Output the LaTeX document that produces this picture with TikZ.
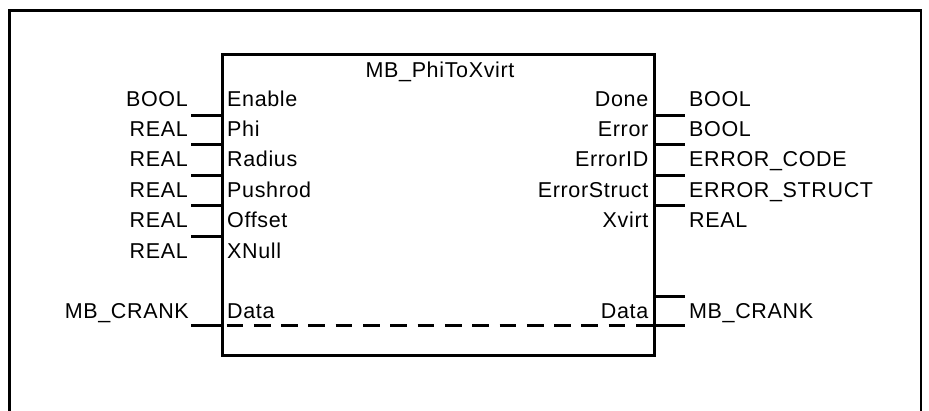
\documentclass[tikz,border=0pt]{standalone}
\usepackage{fontspec}
\setmainfont{Liberation Sans}
\newfontfamily\pinfont[LetterSpace=3]{Liberation Sans}
\begin{document}
\begin{tikzpicture}[x=1pt,y=-1pt,
  lbl/.style={inner sep=0pt, font=\pinfont\fontsize{21.5}{24}\selectfont},
  typeL/.style={lbl, anchor=base east},
  pinL/.style={lbl, anchor=base west},
  pinR/.style={lbl, anchor=base east},
  typeR/.style={lbl, anchor=base west},
  pinline/.style={line width=3pt},
  fbbox/.style={draw, line width=3pt, minimum width=432pt, minimum height=300.7pt, inner sep=0pt}]
  \clip (0,0) rectangle (929,410);
  \fill[white] (0,0) rectangle (929,410);

  % surrounding frame, open at the bottom
  \draw[line width=2.5pt] (9.5,420) -- (9.5,10.5) -- (921,10.5) -- (921,420);

  % function block
  \node[fbbox] (fb) at (438,205.3) {};
  \node[lbl, anchor=base] (title) at (440,77) {MB\_PhiToXvirt};

  % input side
  \node[typeL] (tEnable)  at (188,106)   {BOOL};
  \node[typeL] (tPhi)     at (188,136)   {REAL};
  \node[typeL] (tRadius)  at (188,166.5) {REAL};
  \node[typeL] (tPushrod) at (188,197)   {REAL};
  \node[typeL] (tOffset)  at (188,227.5) {REAL};
  \node[typeL] (tXNull)   at (188,258)   {REAL};
  \node[typeL] (tDataIn)  at (189,318)   {MB\_CRANK};

  \node[pinL] (pEnable)  at (227,106)   {Enable};
  \node[pinL] (pPhi)     at (227,136)   {Phi};
  \node[pinL] (pRadius)  at (227,166.5) {Radius};
  \node[pinL] (pPushrod) at (227,197)   {Pushrod};
  \node[pinL] (pOffset)  at (227,227.5) {Offset};
  \node[pinL] (pXNull)   at (227,258)   {XNull};
  \node[pinL] (pDataIn)  at (227,318)   {Data};

  % output side
  \node[pinR] (pDone)    at (648.5,106)   {Done};
  \node[pinR] (pError)   at (648.5,136)   {Error};
  \node[pinR] (pErrID)   at (648.5,166.5) {ErrorID};
  \node[pinR] (pErrSt)   at (648.5,197)   {ErrorStruct};
  \node[pinR] (pXvirt)   at (648.5,227.5) {Xvirt};
  \node[pinR] (pDataOut) at (648.5,318)   {Data};

  \node[typeR] (tDone)    at (689,106)   {BOOL};
  \node[typeR] (tError)   at (689,136)   {BOOL};
  \node[typeR] (tErrID)   at (689,166.5) {ERROR\_CODE};
  \node[typeR] (tErrSt)   at (689,197)   {ERROR\_STRUCT};
  \node[typeR] (tXvirt)   at (689,227.5) {REAL};
  \node[typeR] (tDataOut) at (689,318)   {MB\_CRANK};

  % pin stubs on the left edge
  \foreach \y [count=\i] in {115,144.5,175,205,236.5} {
    \coordinate (inA\i) at (fb.west |- 0,\y);
    \draw[pinline] (inA\i) -- ++(-29.5,0);
  }
  \coordinate (dataL) at (fb.west |- 0,325.7);
  \draw[pinline] (dataL) -- ++(-29.5,0);

  % pin stubs on the right edge
  \foreach \y [count=\i] in {115,144.5,175,205} {
    \coordinate (outA\i) at (fb.east |- 0,\y);
    \draw[pinline] (outA\i) -- ++(29,0);
  }
  \coordinate (dataRtop) at (fb.east |- 0,296);
  \draw[pinline] (dataRtop) -- ++(29,0);
  \coordinate (dataR) at (fb.east |- 0,325.7);
  \draw[pinline] (dataR) -- ++(29,0);

  % in-out data passed through the block
  \draw[pinline, dash pattern=on 16.7pt off 10.6pt, dash phase=-6pt] (dataL) -- (dataR);
\end{tikzpicture}
\end{document}
